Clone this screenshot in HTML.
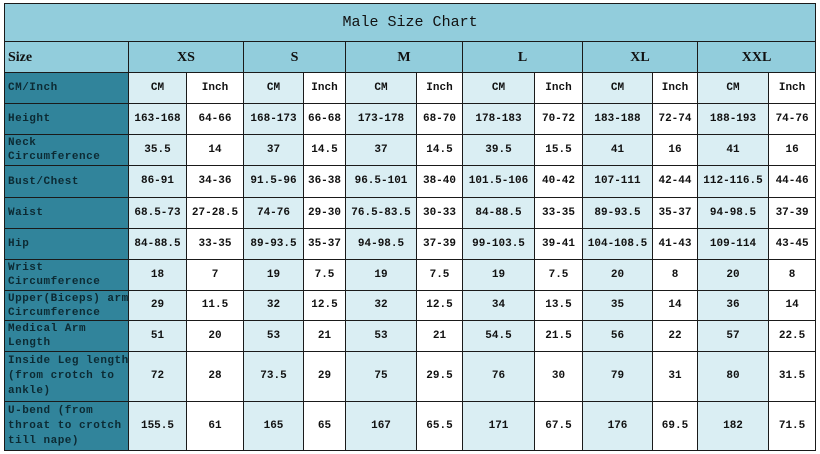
<!DOCTYPE html>
<html><head><meta charset="utf-8"><style>
body{margin:0;background:#fff;width:820px;height:454px;overflow:hidden}
table{position:absolute;left:4px;top:3px;border-collapse:collapse;table-layout:fixed;width:811px}
td{border:1px solid #1a1a1a;padding:0;text-align:center;font-family:"Liberation Mono",monospace;font-weight:bold;font-size:11px;color:#111;line-height:15px;overflow:hidden;white-space:nowrap}
td.h{background:#31849b;text-align:left;padding-left:3px;color:#0c2a33;line-height:14px;letter-spacing:0.5px}
td.c{background:#daeef3}
td.w{background:#fff}
tr.t td{background:#92cddc;font-family:"Liberation Mono",monospace;font-weight:normal;font-size:15px}
tr.s td{background:#92cddc;font-family:"Liberation Serif",serif;font-size:14px}
tr.s td.h0{text-align:left;padding-left:3px}
</style></head><body>
<table>
<colgroup><col style="width:124px"><col style="width:58px"><col style="width:57px"><col style="width:60px"><col style="width:42px"><col style="width:71px"><col style="width:46px"><col style="width:72px"><col style="width:48px"><col style="width:70px"><col style="width:45px"><col style="width:71px"><col style="width:47px"></colgroup>
<tr class="t" style="height:38px"><td colspan="13">Male Size Chart</td></tr>
<tr class="s" style="height:31px"><td class="h0">Size</td><td colspan="2">XS</td><td colspan="2">S</td><td colspan="2">M</td><td colspan="2">L</td><td colspan="2">XL</td><td colspan="2">XXL</td></tr>
<tr style="height:31px"><td class="h">CM/Inch</td><td class="c">CM</td><td class="w">Inch</td><td class="c">CM</td><td class="w">Inch</td><td class="c">CM</td><td class="w">Inch</td><td class="c">CM</td><td class="w">Inch</td><td class="c">CM</td><td class="w">Inch</td><td class="c">CM</td><td class="w">Inch</td></tr>
<tr style="height:31px"><td class="h">Height</td><td class="c">163-168</td><td class="w">64-66</td><td class="c">168-173</td><td class="w">66-68</td><td class="c">173-178</td><td class="w">68-70</td><td class="c">178-183</td><td class="w">70-72</td><td class="c">183-188</td><td class="w">72-74</td><td class="c">188-193</td><td class="w">74-76</td></tr>
<tr style="height:31px"><td class="h">Neck<br>Circumference</td><td class="c">35.5</td><td class="w">14</td><td class="c">37</td><td class="w">14.5</td><td class="c">37</td><td class="w">14.5</td><td class="c">39.5</td><td class="w">15.5</td><td class="c">41</td><td class="w">16</td><td class="c">41</td><td class="w">16</td></tr>
<tr style="height:32px"><td class="h">Bust/Chest</td><td class="c">86-91</td><td class="w">34-36</td><td class="c">91.5-96</td><td class="w">36-38</td><td class="c">96.5-101</td><td class="w">38-40</td><td class="c">101.5-106</td><td class="w">40-42</td><td class="c">107-111</td><td class="w">42-44</td><td class="c">112-116.5</td><td class="w">44-46</td></tr>
<tr style="height:31px"><td class="h">Waist</td><td class="c">68.5-73</td><td class="w">27-28.5</td><td class="c">74-76</td><td class="w">29-30</td><td class="c">76.5-83.5</td><td class="w">30-33</td><td class="c">84-88.5</td><td class="w">33-35</td><td class="c">89-93.5</td><td class="w">35-37</td><td class="c">94-98.5</td><td class="w">37-39</td></tr>
<tr style="height:31px"><td class="h">Hip</td><td class="c">84-88.5</td><td class="w">33-35</td><td class="c">89-93.5</td><td class="w">35-37</td><td class="c">94-98.5</td><td class="w">37-39</td><td class="c">99-103.5</td><td class="w">39-41</td><td class="c">104-108.5</td><td class="w">41-43</td><td class="c">109-114</td><td class="w">43-45</td></tr>
<tr style="height:31px"><td class="h">Wrist<br>Circumference</td><td class="c">18</td><td class="w">7</td><td class="c">19</td><td class="w">7.5</td><td class="c">19</td><td class="w">7.5</td><td class="c">19</td><td class="w">7.5</td><td class="c">20</td><td class="w">8</td><td class="c">20</td><td class="w">8</td></tr>
<tr style="height:30px"><td class="h">Upper(Biceps) arm<br>Circumference</td><td class="c">29</td><td class="w">11.5</td><td class="c">32</td><td class="w">12.5</td><td class="c">32</td><td class="w">12.5</td><td class="c">34</td><td class="w">13.5</td><td class="c">35</td><td class="w">14</td><td class="c">36</td><td class="w">14</td></tr>
<tr style="height:31px"><td class="h">Medical Arm<br>Length</td><td class="c">51</td><td class="w">20</td><td class="c">53</td><td class="w">21</td><td class="c">53</td><td class="w">21</td><td class="c">54.5</td><td class="w">21.5</td><td class="c">56</td><td class="w">22</td><td class="c">57</td><td class="w">22.5</td></tr>
<tr style="height:50px"><td class="h" style="line-height:15px">Inside Leg length<br>(from crotch to<br>ankle)</td><td class="c">72</td><td class="w">28</td><td class="c">73.5</td><td class="w">29</td><td class="c">75</td><td class="w">29.5</td><td class="c">76</td><td class="w">30</td><td class="c">79</td><td class="w">31</td><td class="c">80</td><td class="w">31.5</td></tr>
<tr style="height:49px"><td class="h" style="line-height:15px">U-bend (from<br>throat to crotch<br>till nape)</td><td class="c">155.5</td><td class="w">61</td><td class="c">165</td><td class="w">65</td><td class="c">167</td><td class="w">65.5</td><td class="c">171</td><td class="w">67.5</td><td class="c">176</td><td class="w">69.5</td><td class="c">182</td><td class="w">71.5</td></tr>
</table>
</body></html>
